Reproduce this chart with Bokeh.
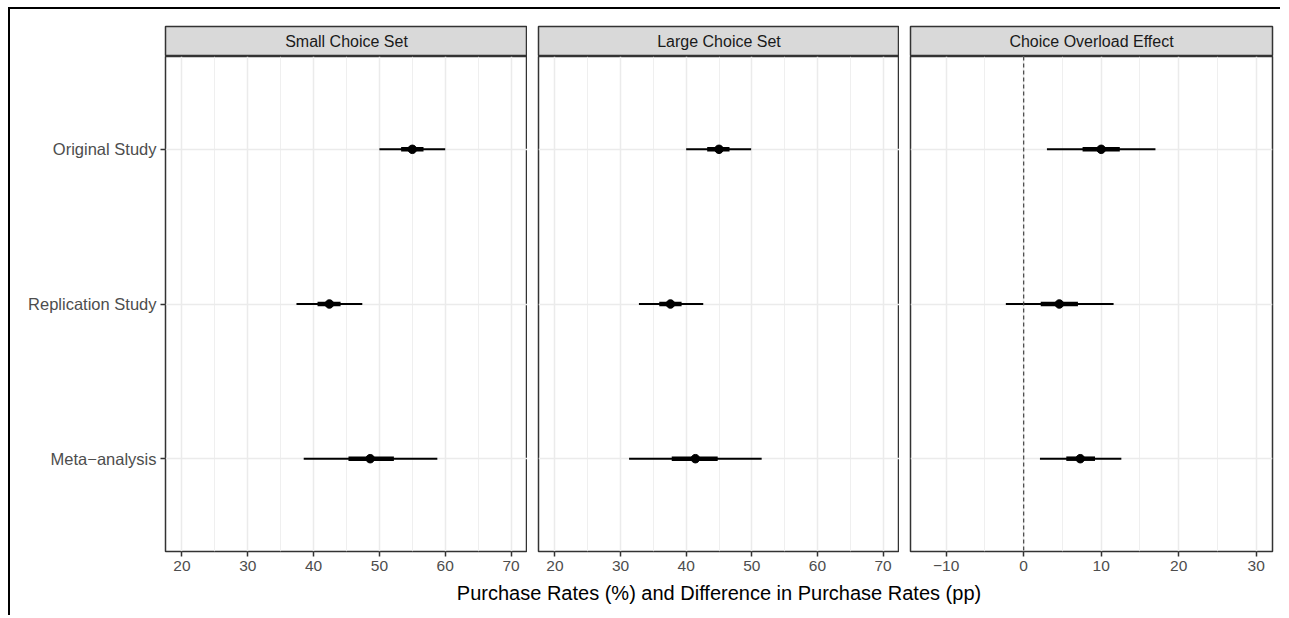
from bokeh.plotting import figure
from bokeh.layouts import row, column
from bokeh.models import Range1d, FixedTicker, Span
from bokeh.core.properties import value
from bokeh.embed import file_html
from bokeh.resources import INLINE

# ---------------- data ----------------
studies = ["Original Study", "Replication Study", "Meta\u2212analysis"]
facets = ["Small Choice Set", "Large Choice Set", "Choice Overload Effect"]

small_est = [55.0, 42.4, 48.6]
small_lo95 = [50.0, 37.4, 38.5]
small_hi95 = [60.0, 47.4, 58.8]
small_lo_in = [53.3, 40.6, 45.3]
small_hi_in = [56.7, 44.1, 52.2]

large_est = [45.0, 37.6, 41.4]
large_lo95 = [40.0, 32.8, 31.3]
large_hi95 = [49.9, 42.6, 51.5]
large_lo_in = [43.2, 35.9, 37.8]
large_hi_in = [46.6, 39.3, 44.8]

effect_est = [10.0, 4.6, 7.3]
effect_lo95 = [3.0, -2.3, 2.1]
effect_hi95 = [17.0, 11.6, 12.6]
effect_lo_in = [7.6, 2.2, 5.5]
effect_hi_in = [12.4, 7.0, 9.2]

rate_ticks = [20, 30, 40, 50, 60, 70]
rate_minor = [25, 35, 45, 55, 65]
effect_ticks = [-10, 0, 10, 20, 30]
effect_minor = [-5, 5, 15, 25]
ref_line = 0
x_title = "Purchase Rates (%) and Difference in Purchase Rates (pp)"

# ---------------- styling ----------------
FONT_NAME = "Liberation Sans"
FONT = value(FONT_NAME)
y_pos = list(range(len(studies), 0, -1))
GRID = "#ebebeb"
BORDER = "#333333"
TICKCOL = "#4d4d4d"

FRAME_H = 495
STRIP_H = 30


def make_strip(label, fw, left, right):
    s = figure(frame_width=fw, frame_height=STRIP_H, x_range=Range1d(0, 1), y_range=Range1d(0, 1),
               toolbar_location=None, output_backend="svg",
               min_border_left=left, min_border_right=right, min_border_top=17, min_border_bottom=0)
    s.axis.visible = False
    s.grid.visible = False
    s.background_fill_color = "#d9d9d9"
    s.outline_line_color = BORDER
    s.outline_line_width = 1.5
    s.text(x=[0.5], y=[0.5], text=[label], text_align="center", text_baseline="middle",
           text_font=FONT, text_font_size="16px", text_color="#1a1a1a")
    return s


def make_panel(fw, left, right, xr, ticks, minor, est, lo95, hi95, lo_in, hi_in, show_y, zero=None):
    p = figure(frame_width=fw, frame_height=FRAME_H, x_range=Range1d(*xr),
               y_range=Range1d(0.4, len(studies) + 0.6),
               toolbar_location=None, output_backend="svg",
               min_border_left=left, min_border_right=right, min_border_top=0, min_border_bottom=29)
    p.background_fill_color = "white"
    p.outline_line_color = BORDER
    p.outline_line_width = 1.5

    xt = FixedTicker(ticks=ticks, minor_ticks=minor)
    p.xaxis.ticker = xt
    p.xgrid.ticker = xt
    p.xgrid.grid_line_color = GRID
    p.xgrid.grid_line_width = 1.5
    p.xgrid.minor_grid_line_color = GRID
    p.xgrid.minor_grid_line_width = 0.8
    p.ygrid.ticker = FixedTicker(ticks=y_pos)
    p.ygrid.grid_line_color = GRID
    p.ygrid.grid_line_width = 1.5

    p.xaxis.axis_line_color = None
    p.xaxis.major_tick_line_color = BORDER
    p.xaxis.major_tick_line_width = 1.5
    p.xaxis.major_tick_out = 5
    p.xaxis.major_tick_in = 0
    p.xaxis.minor_tick_line_color = None
    p.xaxis.major_label_text_font = FONT_NAME
    p.xaxis.major_label_text_font_size = "15.5px"
    p.xaxis.major_label_text_color = TICKCOL
    p.xaxis.major_label_standoff = 4
    p.xaxis.major_label_overrides = {t: str(t).replace("-", "\u2212") for t in ticks}

    if show_y:
        p.yaxis.ticker = FixedTicker(ticks=y_pos)
        p.yaxis.major_label_overrides = {y: s for y, s in zip(y_pos, studies)}
        p.yaxis.axis_line_color = None
        p.yaxis.major_tick_line_color = BORDER
        p.yaxis.major_tick_line_width = 1.5
        p.yaxis.major_tick_out = 5
        p.yaxis.major_tick_in = 0
        p.yaxis.minor_tick_line_color = None
        p.yaxis.major_label_text_font = FONT_NAME
        p.yaxis.major_label_text_font_size = "16.5px"
        p.yaxis.major_label_text_color = TICKCOL
        p.yaxis.major_label_standoff = 4
    else:
        p.yaxis.visible = False

    if zero is not None:
        p.add_layout(Span(location=zero, dimension="height", line_color="#444444",
                          line_width=1.2, line_dash="4 3"))

    p.segment(x0=lo95, x1=hi95, y0=y_pos, y1=y_pos, line_color="black", line_width=2)
    p.segment(x0=lo_in, x1=hi_in, y0=y_pos, y1=y_pos, line_color="black", line_width=4.5)
    p.scatter(x=est, y=y_pos, size=8.5, fill_color="black", line_color="black")
    return p


L1, W1 = 155, 362
L2, W2 = 11, 361
L3, W3, R3 = 11, 362, 8

c1 = column(make_strip(facets[0], W1, L1, 0),
            make_panel(W1, L1, 0, (17.5, 72.5), rate_ticks, rate_minor,
                       small_est, small_lo95, small_hi95, small_lo_in, small_hi_in, True), spacing=0)
c2 = column(make_strip(facets[1], W2, L2, 0),
            make_panel(W2, L2, 0, (17.5, 72.5), rate_ticks, rate_minor,
                       large_est, large_lo95, large_hi95, large_lo_in, large_hi_in, False),
            spacing=0)
c3 = column(make_strip(facets[2], W3, L3, R3),
            make_panel(W3, L3, R3, (-14.6, 32.1), effect_ticks, effect_minor,
                       effect_est, effect_lo95, effect_hi95, effect_lo_in, effect_hi_in, False, zero=ref_line),
            spacing=0)

# x-axis title spanning all three panels
span_w = W1 + L2 + W2 + L3 + W3
t = figure(frame_width=span_w, frame_height=24, x_range=Range1d(0, 1), y_range=Range1d(0, 1),
           toolbar_location=None, output_backend="svg",
           min_border_left=L1, min_border_right=R3, min_border_top=0, min_border_bottom=11)
t.axis.visible = False
t.grid.visible = False
t.outline_line_color = None
t.text(x=[0.5], y=[0.5], text=[x_title], text_align="center", text_baseline="middle",
       text_font=FONT, text_font_size="20px", text_color="black")

layout = column(row(c1, c2, c3, spacing=0), t, spacing=0,
                styles={"margin-top": "7px", "margin-left": "8px",
                        "border-top": "2px solid black", "border-left": "2px solid black"})

open("out.html", "w").write(file_html(layout, INLINE))
